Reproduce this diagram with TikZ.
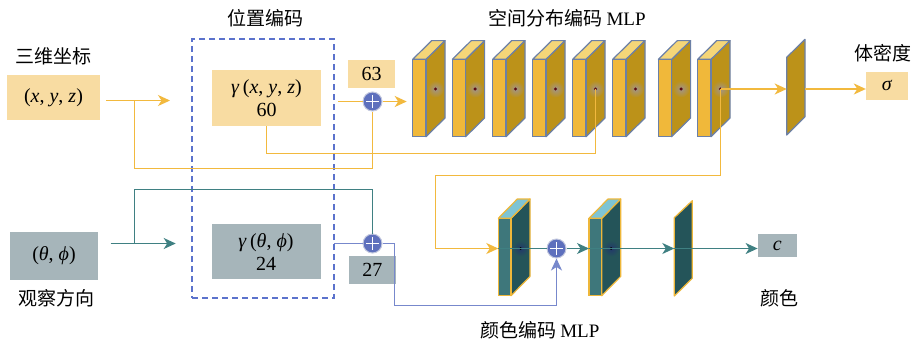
\documentclass[tikz,border=0pt]{standalone}
\usepackage{fontspec}
\setmainfont{Liberation Serif}
\newfontfamily\cjk{Noto Sans CJK SC}
\usetikzlibrary{arrows.meta}

\definecolor{goldfront}{HTML}{F0B83A}
\definecolor{goldside}{HTML}{BC9219}
\definecolor{goldtop}{HTML}{F5D678}
\definecolor{slabedge}{HTML}{6C80A6}
\definecolor{halogold}{HTML}{A0948A}
\definecolor{dotred}{HTML}{5A0A12}
\definecolor{tealfront}{HTML}{3E777B}
\definecolor{tealside}{HTML}{245459}
\definecolor{tealtop}{HTML}{7EC4D4}
\definecolor{tealedge}{HTML}{EEB73A}
\definecolor{haloteal}{HTML}{22386A}
\definecolor{yellowbox}{HTML}{F8DCA2}
\definecolor{graybox}{HTML}{A6B5BA}
\definecolor{yline}{HTML}{F2B93E}
\definecolor{tline}{HTML}{3F8082}
\definecolor{bline}{HTML}{7788CC}
\definecolor{dashblue}{HTML}{5B72CC}
\definecolor{plusfill}{HTML}{5E70BD}
\definecolor{plusrim}{HTML}{C3C8DE}

\tikzset{
  >={Stealth[length=12pt,width=11pt,inset=3.5pt]},
  every node/.style={font=\fontsize{20}{23}\selectfont, inner sep=0pt},
  cjklabel/.style={font=\cjk\fontsize{19}{22}\selectfont},
  ybox/.style={fill=yellowbox, align=center},
  gbox/.style={fill=graybox, align=center},
  yl/.style={draw=yline, line width=1.4pt},
  tl/.style={draw=tline, line width=1.4pt},
  bl/.style={draw=bline, line width=1.4pt},
  plusnode/.style={circle, minimum size=19pt, fill=plusfill, draw=plusrim, line width=1pt,
    path picture={
      \draw[white, line width=1.3pt]
        ([xshift=-6.5pt]path picture bounding box.center) -- ([xshift=6.5pt]path picture bounding box.center)
        ([yshift=-6.5pt]path picture bounding box.center) -- ([yshift=6.5pt]path picture bounding box.center);
    }},
}

% golden slab of the density MLP: #1 name of its centre dot, #2 left x of front face
\newcommand{\goldslab}[2]{%
  \filldraw[fill=goldside, draw=slabedge, line width=1.2pt, line join=round]
    ({#2+13.3},59.3) -- ++(19,-18.7) -- ++(0,77.4) -- ({#2+13.3},136.7) -- cycle;
  \filldraw[fill=goldtop, draw=slabedge, line width=1.2pt, line join=round]
    (#2,59.3) -- ++(19,-18.7) -- ++(13.3,0) -- ({#2+13.3},59.3) -- cycle;
  \filldraw[fill=goldfront, draw=slabedge, line width=1.2pt]
    (#2,59.3) rectangle ++(13.3,77.4);
  \shade[inner color=halogold, outer color=goldside] ({#2+22.8},89) circle (8.5);
  \fill[dotred] ({#2+22.8},89) circle (1.7);
  \coordinate (#1) at ({#2+22.8},89);
}

% teal slab of the colour MLP: #1 name, #2 left x of front face
\newcommand{\tealslab}[2]{%
  \filldraw[fill=tealside, draw=tealedge, line width=1.2pt, line join=round]
    ({#2+12.7},218.3) -- ++(19,-19.3) -- ++(0,77.4) -- ({#2+12.7},295.7) -- cycle;
  \filldraw[fill=tealtop, draw=tealedge, line width=1.2pt, line join=round]
    (#2,218.3) -- ++(19,-19.3) -- ++(12.7,0) -- ({#2+12.7},218.3) -- cycle;
  \filldraw[fill=tealfront, draw=tealedge, line width=1.2pt]
    (#2,218.3) rectangle ++(12.7,77.4);
  \shade[inner color=haloteal, outer color=tealside] ({#2+22.2},248.5) circle (8);
  \fill[black] ({#2+22.2},248.5) circle (1.5);
  \coordinate (#1) at ({#2+22.2},248.5);
  \coordinate (#1-in) at (#2,248.5);
}

\begin{document}
\begin{tikzpicture}[x=1pt, y=-1pt]
\useasboundingbox (0,0) rectangle (917,349);
\fill[white] (0,0) rectangle (917,349);

% titles and labels
\node[cjklabel] (t-pe) at (265,18) {位置编码};
\node[cjklabel] (t-mlp1) at (567,18) {空间分布编码 \textrm{MLP}};
\node[cjklabel] (t-xyz) at (53,56) {三维坐标};
\node[cjklabel] (t-dens) at (883,53) {体密度};
\node[cjklabel] (t-dir) at (56,298) {观察方向};
\node[cjklabel] (t-col) at (779.5,298) {颜色};
\node[cjklabel] (t-mlp2) at (539.7,330) {颜色编码 \textrm{MLP}};

% positional encoding frame
\node[draw=dashblue, dashed, dash pattern=on 6pt off 4pt, line width=1.2pt,
      minimum width=142pt, minimum height=259pt] (pe) at (263,168.5) {};

% input / output boxes
\node[ybox, minimum width=93pt, minimum height=45pt] (xyz) at (53.5,97.5)
  {(\textit{x}, \textit{y}, \textit{z})};
\node[ybox, minimum width=109pt, minimum height=56pt] (gxyz) at (266.5,98)
  {\textit{γ}\,(\textit{x}, \textit{y}, \textit{z})\\60};
\node[ybox, minimum width=47pt, minimum height=28pt] (n63) at (371.5,74) {63};
\node[ybox, minimum width=42pt, minimum height=28pt] (sigma) at (887,85.5) {\textit{σ}};

\node[gbox, minimum width=88pt, minimum height=48pt] (dir) at (54,255.5)
  {(\textit{θ}, \textit{ϕ})};
\node[gbox, minimum width=109pt, minimum height=55pt] (gdir) at (266,251.7)
  {\textit{γ}\,(\textit{θ}, \textit{ϕ})\\24};
\node[gbox, minimum width=47pt, minimum height=28pt] (n27) at (372.3,270) {27};
\node[gbox, minimum width=39pt, minimum height=23pt] (cbox) at (777.3,245.7) {\textit{c}};

% density MLP slabs
\goldslab{g1}{412.7}
\goldslab{g2}{452.3}
\goldslab{g3}{492.7}
\goldslab{g4}{532.7}
\goldslab{g5}{572.7}
\goldslab{g6}{612.7}
\goldslab{g7}{658.3}
\goldslab{g8}{697.7}
\coordinate (g1-in) at (412.7,101.5);

% density output plane
\filldraw[fill=goldside, draw=slabedge, line width=1.2pt, line join=round]
  (786.7,57.3) -- (805,39.3) -- (805,116.7) -- (786.7,135) -- cycle;
\coordinate (gp-in) at (786.7,89);
\coordinate (gp-out) at (805,89);

% colour MLP slabs
\tealslab{t1}{498.3}
\tealslab{t2}{589}

% colour output plane
\filldraw[fill=tealside, draw=tealedge, line width=1.2pt, line join=round]
  (674.3,217.7) -- (692.3,200.7) -- (692.3,278.3) -- (674.3,296) -- cycle;
\coordinate (tp-in) at (674.3,248.5);

% concatenation points
\node[plusnode] (c1) at (372.5,101.5) {};
\node[plusnode] (c2) at (372.5,243.5) {};
\node[plusnode] (c3) at (556.5,248.5) {};

% auxiliary points on the frame
\coordinate (a0) at (106,100.5);
\coordinate (b0) at (134.5,100.5);
\coordinate (pin1) at (170,100.5);
\coordinate (pout1) at (338,101.5);
\coordinate (a1) at (110.7,243.5);
\coordinate (b1) at (134.5,243.5);
\coordinate (pin2) at (175.7,243.5);
\coordinate (pout2) at (334.3,243.5);
\coordinate (ydrop) at (266.5,153.5);

% position branch
\draw[yl,->] (a0) -- (pin1);
\draw[yl] (b0) |- (134.5,168.5) -| (c1.south);
\draw[yl] (pout1) -- (c1.west);
\draw[yl,->] (c1.east) -- ([xshift=-6pt]g1-in);
\draw[yl] (gxyz.south -| ydrop) -- (ydrop) -| (g5);
\draw[yl,->] (g8) -- (gp-in);
\draw[yl,->] (gp-out) -- (sigma.west |- gp-out);
\draw[yl,->] (g8) |- (435.5,175.5) |- (t1-in);

% direction branch
\draw[tl,->] (a1) -- (pin2);
\draw[tl] (b1) |- (372.5,189.5) -- (c2.north);
\draw[bl] (pout2) -- (c2.west);
\draw[bl,->] (c2.east) -| (394.5,305.5) -| (c3.south);

% colour MLP flow
\draw[tl] (t1-in) -- (c3.west);
\draw[tl,->] (c3.east) -- (t2-in);
\draw[tl] (t2-in) -- (t2);
\draw[tl,->] (t2) -- (tp-in);
\draw[tl,->] (tp-in) -- (cbox.west |- tp-in);
\end{tikzpicture}
\end{document}
